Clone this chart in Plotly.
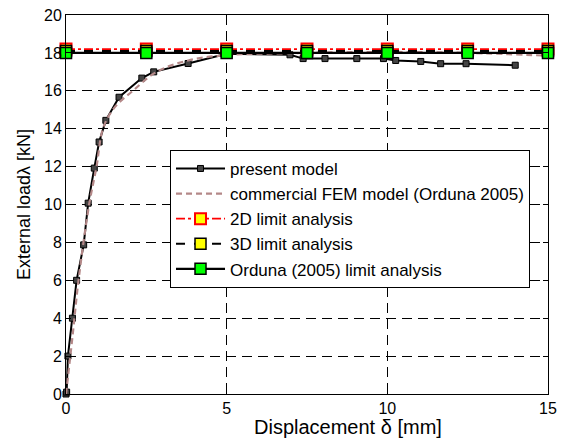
import plotly.graph_objects as go

# Present model
pm_x = [0, 0.02, 0.06, 0.2, 0.33, 0.55, 0.69, 0.88, 1.03, 1.24, 1.65, 2.36, 2.73, 3.8,
        5.0, 6.97, 7.38, 8.06, 9.05, 9.88, 10.26, 11.04, 11.66, 12.45, 13.98]
pm_y = [0, 0.1, 2.0, 4.0, 6.0, 7.87, 10.07, 11.92, 13.3, 14.44, 15.66, 16.67, 17.0, 17.44,
        17.95, 17.9, 17.7, 17.7, 17.7, 17.7, 17.6, 17.55, 17.43, 17.43, 17.35]

# Commercial FEM model (Orduna 2005)
fem_x = [0, 0.2, 0.39, 0.72, 0.95, 1.15, 1.5, 2.08, 2.82, 3.8, 5.0, 7.5, 10.0, 12.5, 15.0]
fem_y = [0, 3.0, 6.0, 10.0, 12.0, 14.0, 15.1, 16.0, 17.0, 17.6, 17.88, 18.0, 18.05, 18.0, 17.85]

# Limit analyses
lim_x = [0, 2.5, 5, 7.5, 10, 12.5, 15]
lim2d = [18.2] * 7
lim3d = [18.1] * 7
orduna = [18.0] * 7

x_title = "Displacement δ [mm]"
y_title = "External loadλ [kN]"

FONT = "Liberation Sans, Arial, sans-serif"

fig = go.Figure()
fig.add_trace(go.Scatter(x=pm_x, y=pm_y, mode="lines+markers", name="present model",
                         line=dict(color="black", width=2),
                         marker=dict(symbol="square", size=6, color="#444444",
                                     line=dict(color="black", width=1)),
                         cliponaxis=False))
fig.add_trace(go.Scatter(x=fem_x, y=fem_y, mode="lines", name="commercial FEM model (Orduna 2005)",
                         line=dict(color="#b48888", width=2.2, dash="6px,4px", shape="spline"),
                         cliponaxis=False))
fig.add_trace(go.Scatter(x=lim_x, y=lim2d, mode="lines+markers", name="2D limit analysis",
                         line=dict(color="red", width=1.8, dash="dashdot"),
                         marker=dict(symbol="square", size=11, color="yellow",
                                     line=dict(color="red", width=2)),
                         cliponaxis=False))
fig.add_trace(go.Scatter(x=lim_x, y=lim3d, mode="lines+markers", name="3D limit analysis",
                         line=dict(color="black", width=1.8, dash="dash"),
                         marker=dict(symbol="square", size=11, color="yellow",
                                     line=dict(color="black", width=1.5)),
                         cliponaxis=False))
fig.add_trace(go.Scatter(x=lim_x, y=orduna, mode="lines+markers", name="Orduna (2005) limit analysis",
                         line=dict(color="black", width=2.2),
                         marker=dict(symbol="square", size=11, color="#00ff00",
                                     line=dict(color="black", width=1.5)),
                         cliponaxis=False))

axis_common = dict(showline=True, linecolor="black", linewidth=1, mirror="ticks",
                   ticks="inside", ticklen=5, tickcolor="black", automargin=False,
                   showgrid=True, gridcolor="black", gridwidth=0.8, griddash="10px,6px",
                   zeroline=False, tickfont=dict(family=FONT, size=16, color="black"))

fig.update_xaxes(range=[0, 15], tickvals=[0, 5, 10, 15], **axis_common)
fig.update_yaxes(range=[0, 20], dtick=2, **axis_common,
                 title=dict(text=y_title, standoff=8,
                            font=dict(family=FONT, size=18, color="black")))

fig.add_annotation(text=x_title, xref="paper", yref="paper", x=0.585, y=-0.088,
                   xanchor="center", yanchor="middle", showarrow=False,
                   font=dict(family=FONT, size=20, color="black"))

fig.update_layout(width=566, height=445, margin=dict(l=66, r=18, t=15, b=51),
                  template="none",
                  plot_bgcolor="white", paper_bgcolor="white",
                  showlegend=True,
                  legend=dict(x=0.2158, y=0.644, xanchor="left", yanchor="top",
                              itemwidth=49,
                              bgcolor="white", bordercolor="black", borderwidth=1,
                              font=dict(family=FONT, size=17, color="black")))
fig.write_html("out.html", config={"displayModeBar": False},
               post_script="document.body.style.margin='0px';")
